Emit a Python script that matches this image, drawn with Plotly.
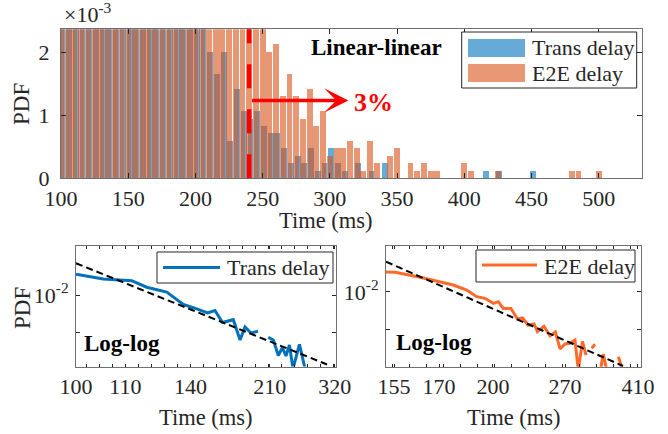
import plotly.graph_objects as go

W, H = 668, 434
FONT = "Liberation Serif, Times New Roman, serif"
INK = "#262626"
FRAME = "#707070"
TICK_SIZE = 22
TEXT_SIZE = 22.5

# ---------------- top panel: histogram (PDF in units of 1e-3) ----------------
trans_bin_centers = list(range(101, 452, 5))
trans_pdf_e3 = [
    14.6, 14.0, 13.4, 13.0, 12.6, 12.2, 11.5, 11.0, 10.6, 10.0, 9.4,
    8.8, 8.3, 7.9, 7.4, 7.0, 6.5, 6.0, 5.4, 4.9, 4.0, 3.1,
    2.011, 1.656, 2.011, 0.592, 1.420, 1.065, 0.946, 1.065, 0.828, 0.710,
    0.710, 0.473, 0.237, 0.355, 0.237, 0.473, 0.118, 0.237, 0.473, 0.237,
    0.118, 0, 0.237, 0, 0.118, 0, 0.237,
    0, 0, 0, 0, 0, 0, 0, 0, 0, 0, 0, 0, 0, 0,
    0.118, 0, 0.118, 0, 0, 0, 0, 0.118,
]
e2e_bin_centers = list(range(100, 501, 5))
e2e_pdf_e3 = [
    15.0, 14.6, 14.2, 13.9, 13.5, 13.2, 12.8, 12.4, 12.0, 11.7, 11.3,
    11.0, 10.6, 10.2, 9.8, 9.4, 9.0, 8.6, 8.2, 7.8, 7.4, 7.0, 6.6,
    6.2, 5.7, 5.2, 4.7, 4.2, 3.7, 3.2, 2.7,
    2.011, 2.130, 1.301, 1.656, 1.301, 0.946, 1.420, 0.828, 1.065, 0.355,
    0.473, 0.473, 0.592, 0.473, 0.118, 0.592, 0.237, 0, 0.355, 0.473,
    0, 0.237, 0.118, 0.237, 0.118, 0.118,
    0, 0, 0, 0.237, 0.118, 0, 0, 0, 0.118,
    0, 0, 0, 0, 0, 0, 0, 0, 0, 0,
    0.118, 0.118, 0, 0, 0.118,
]
top_x_range = [100, 532]
top_y_range = [0, 2.373]
top_xticks = [100, 150, 200, 250, 300, 350, 400, 450, 500]
top_yticks = [0, 1, 2]
threshold_ms = 240
arrow_y = 1.24
arrow_end_ms = 313.8
share_text = "3%"

# ---------------- bottom panels: log-log PDF ----------------
# x is the position along the (non-uniformly labelled) time axis, 0..20
trans_u = [0, 2.1, 4.29, 5.44, 6.98, 7.75, 8.25, 9.02, 10.12, 10.69, 11.27,
           12.1, 12.62, 13.0, 13.46, 14.0, None, 14.79, 15.18, 15.56, 15.88,
           16.15, 16.42, 16.69, 17.19, 17.62]
trans_pdf = [0.01459, 0.01339, 0.01298, 0.01153, 0.01056, 0.00924, 0.00841,
             0.00793, 0.00720, 0.00753, 0.00605, 0.00637, 0.00440, 0.00557,
             0.00499, 0.00516, None, 0.00462, 0.00440, 0.00331, 0.00383,
             0.00328, 0.00401, 0.0026, 0.00405, 0.0026]
trans_fit_u = [0, 19.31]
trans_fit_pdf = [0.01785, 0.002808]
trans_tick_u = [0, 3.8, 8.8, 14.9, 19.9]
trans_tick_labels = ["100", "110", "140", "210", "320"]

e2e_u = [0, 0.71, 2.67, 4.24, 5.28, 6.33, 7.11, 7.76, 8.42, 8.81, 9.2, 9.8,
         10.31, 10.71, 11.14, 11.61, 11.88, 12.39, 12.86, 13.29, 13.65, 14.04,
         14.43, 14.82, 15.08, 15.41, 15.69, None, 16.13, 16.39, None, 16.82,
         17.04, 17.31, None, 18.22, 18.57]
e2e_pdf = [0.01441, 0.01433, 0.01308, 0.01207, 0.01136, 0.01037, 0.00918,
           0.00891, 0.00813, 0.00838, 0.00740, 0.00740, 0.00611, 0.00622,
           0.00547, 0.00557, 0.00484, 0.00534, 0.00448, 0.00481, 0.00353,
           0.00387, 0.00392, 0.00416, 0.0024, 0.00405, 0.00316, None, 0.00357,
           0.00385, None, 0.0024, 0.00322, 0.0024, None, 0.00306, 0.0024]
e2e_fit_u = [0, 18.59]
e2e_fit_pdf = [0.01739, 0.002587]
e2e_tick_u = [0.63, 4.16, 8.39, 14.04, 19.76]
e2e_tick_labels = ["155", "170", "200", "270", "410"]

log_yticks = [0.005, 0.01]
log_yticklabels = ["", "10<sup>-2</sup>"]

BLUE = "#0072BD"
ORANGE = "#D95319"
ORANGE_LINE = "#FF6A2A"


def px(x):
    return x / W


def py(y):
    return 1 - y / H


fig = go.Figure()
fig.add_trace(go.Bar(x=trans_bin_centers, y=trans_pdf_e3, width=4.4,
                     marker=dict(color=BLUE, line=dict(width=0)), opacity=0.6,
                     name="Trans delay", xaxis="x", yaxis="y", showlegend=False))
fig.add_trace(go.Bar(x=e2e_bin_centers, y=e2e_pdf_e3, width=4.4,
                     marker=dict(color=ORANGE, line=dict(width=0)), opacity=0.6,
                     name="E2E delay", xaxis="x", yaxis="y", showlegend=False))

fig.add_trace(go.Scatter(x=trans_u, y=trans_pdf, mode="lines", connectgaps=False,
                         line=dict(color=BLUE, width=3), xaxis="x2", yaxis="y2",
                         showlegend=False))
fig.add_trace(go.Scatter(x=trans_fit_u, y=trans_fit_pdf, mode="lines",
                         line=dict(color="black", width=2, dash="7px,4px"),
                         xaxis="x2", yaxis="y2", showlegend=False))
fig.add_trace(go.Scatter(x=e2e_u, y=e2e_pdf, mode="lines", connectgaps=False,
                         line=dict(color=ORANGE_LINE, width=3), xaxis="x3", yaxis="y3",
                         showlegend=False))
fig.add_trace(go.Scatter(x=e2e_fit_u, y=e2e_fit_pdf, mode="lines",
                         line=dict(color="black", width=2, dash="7px,4px"),
                         xaxis="x3", yaxis="y3", showlegend=False))

common = dict(showline=True, linecolor=FRAME, linewidth=1, mirror="ticks",
              ticks="inside", tickcolor=INK, showgrid=False, zeroline=False,
              automargin=False,
              tickfont=dict(family=FONT, size=TICK_SIZE, color=INK))

fig.update_layout(
    width=W, height=H, margin=dict(l=0, r=0, t=0, b=0, pad=0), autosize=False,
    paper_bgcolor="white", plot_bgcolor="white", barmode="overlay",
    bargap=0, showlegend=False,
    font=dict(family=FONT, size=TEXT_SIZE, color=INK),
    xaxis=dict(domain=[px(61), px(641.7)], range=top_x_range, anchor="y",
               tickmode="array", tickvals=top_xticks, ticklen=5,
               ticklabelstandoff=0, **common),
    yaxis=dict(domain=[py(178.3), py(29.3)], range=top_y_range, anchor="x",
               tickmode="array", tickvals=top_yticks, ticklen=5,
               ticklabelstandoff=6, **common),
    xaxis2=dict(domain=[px(76), px(336)], range=[0, 20], anchor="y2",
                tickmode="array", tickvals=trans_tick_u, ticktext=trans_tick_labels,
                ticklen=3, ticklabelstandoff=0,
                minor=dict(tickmode="linear", tick0=0.8, dtick=1, ticklen=3,
                           ticks="inside", tickcolor=INK, showgrid=False),
                **common),
    yaxis2=dict(domain=[py(366.5), py(246)], type="log", range=[-2.5675, -1.611],
                anchor="x2", tickmode="array", tickvals=log_yticks,
                ticktext=log_yticklabels, ticklen=4, ticklabelstandoff=2, **common),
    xaxis3=dict(domain=[px(386), px(641)], range=[0, 20], anchor="y3",
                tickmode="array", tickvals=e2e_tick_u, ticktext=e2e_tick_labels,
                ticklen=3, ticklabelstandoff=0,
                minor=dict(tickmode="linear", tick0=0.5, dtick=1.333, ticklen=3,
                           ticks="inside", tickcolor=INK, showgrid=False),
                **common),
    yaxis3=dict(domain=[py(366.7), py(245.5)], type="log", range=[-2.593, -1.631],
                anchor="x3", tickmode="array", tickvals=log_yticks,
                ticktext=log_yticklabels, ticklen=4, ticklabelstandoff=2, **common),
)

shapes = []
# threshold line
shapes.append(dict(type="line", xref="x", yref="y domain", x0=threshold_ms, x1=threshold_ms,
                   y0=0, y1=1, line=dict(color="#FF0000", width=4.5, dash="24px,21px"),
                   layer="above"))


def rect_px(x0, y0, x1, y1, fill, line_color=None, width=1):
    return dict(type="rect", xref="paper", yref="paper", x0=px(x0), x1=px(x1),
                y0=py(y1), y1=py(y0), fillcolor=fill,
                line=dict(color=line_color or "rgba(0,0,0,0)", width=width if line_color else 0),
                layer="above")


def line_px(x0, y0, x1, y1, color, width):
    return dict(type="line", xref="paper", yref="paper", x0=px(x0), x1=px(x1),
                y0=py(y0), y1=py(y1), line=dict(color=color, width=width), layer="above")


# legends
shapes.append(rect_px(461.7, 32, 636.7, 88, "white", INK, 1))
shapes.append(rect_px(468, 39, 525, 57, "rgba(0,114,189,0.6)"))
shapes.append(rect_px(468, 64, 525, 82, "rgba(217,83,25,0.6)"))
shapes.append(rect_px(157, 252, 333, 283, "white", INK, 1))
shapes.append(line_px(163, 267.5, 220, 267.5, BLUE, 3))
shapes.append(rect_px(476, 250, 635, 282, "white", INK, 1))
shapes.append(line_px(482, 265, 537, 265, ORANGE_LINE, 3))
fig.update_layout(shapes=shapes)

ann = []


def text_px(x, y, text, size=TEXT_SIZE, color=INK, xanchor="center", yanchor="middle", angle=0):
    return dict(x=px(x), y=py(y), xref="paper", yref="paper", text=text,
                showarrow=False, xanchor=xanchor, yanchor=yanchor, textangle=angle,
                font=dict(family=FONT, size=size, color=color))


ann.append(text_px(62, 29, "×10<sup>-3</sup>", size=22, xanchor="left", yanchor="bottom"))
ann.append(text_px(326, 220, "Time (ms)"))
ann.append(text_px(22, 104, "PDF", size=23, angle=-90))
ann.append(text_px(206, 417, "Time (ms)"))
ann.append(text_px(22, 308, "PDF", size=23, angle=-90))
ann.append(text_px(514, 417, "Time (ms)"))
ann.append(text_px(530, 48, "Trans delay", size=22, xanchor="left"))
ann.append(text_px(530, 73, "E2E delay", size=22, xanchor="left"))
ann.append(text_px(225, 267, "Trans delay", size=22, xanchor="left"))
ann.append(text_px(542, 266, "E2E delay", size=22, xanchor="left"))

ann.append(dict(x=335, y=2.09, xref="x", yref="y", text="<b>Linear-linear</b>",
                showarrow=False, font=dict(family=FONT, size=23, color="black")))
ann.append(dict(x=arrow_end_ms, y=arrow_y, ax=threshold_ms + 1, ay=arrow_y,
                xref="x", yref="y", axref="x", ayref="y", text="",
                showarrow=True, arrowhead=3, arrowsize=1.15, arrowwidth=3.5,
                arrowcolor="#FF0000", standoff=0))
ann.append(dict(x=332.4, y=1.2, xref="x", yref="y", text="<b>%s</b>" % share_text,
                showarrow=False, font=dict(family=FONT, size=26, color="#FF0000")))
ann.append(dict(x=3.54, y=-2.381, xref="x2", yref="y2", text="<b>Log-log</b>",
                showarrow=False, font=dict(family=FONT, size=23, color="black")))
ann.append(dict(x=3.76, y=-2.397, xref="x3", yref="y3", text="<b>Log-log</b>",
                showarrow=False, font=dict(family=FONT, size=23, color="black")))
fig.update_layout(annotations=ann)

fig.write_html("out.html", config={"displayModeBar": False},
               post_script="document.body.style.margin='0';"
                           "document.body.style.overflow='hidden';")
